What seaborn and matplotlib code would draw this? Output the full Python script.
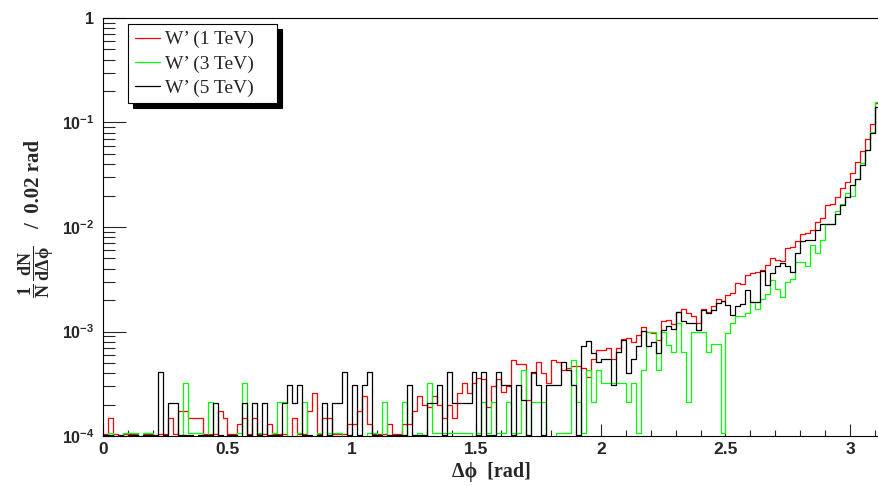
import numpy as np
import pandas as pd
import matplotlib
matplotlib.use("Agg")
import matplotlib.pyplot as plt
import seaborn as sns
from matplotlib.lines import Line2D
from matplotlib.ticker import FixedLocator, MultipleLocator, LogLocator, NullFormatter

# ---------------- data ----------------
bin_width = 0.02
n_bins = 156
samples = ["W\u2019 (1 TeV)", "W\u2019 (3 TeV)", "W\u2019 (5 TeV)"]
colors = ["#ff0000", "#00ff00", "#000000"]

w1tev = [
    1.05e-4, 1.5e-4, 1.05e-4, 0, 1.05e-4, 1.05e-4, 1.05e-4, 0, 1.05e-4, 1.05e-4,
    0, 1.05e-4, 1.05e-4, 1.5e-4, 1.05e-4, 1.75e-4, 1.75e-4, 1.5e-4, 1.5e-4, 1.5e-4,
    1.05e-4, 1.05e-4, 1.05e-4, 1.75e-4, 1.5e-4, 1.05e-4, 1.05e-4, 1.3e-4, 1.5e-4, 1.05e-4,
    1.5e-4, 1.05e-4, 1.05e-4, 1.3e-4, 1.05e-4, 1.05e-4, 1.05e-4, 0, 1.5e-4, 1.05e-4,
    1.05e-4, 1.75e-4, 2.6e-4, 1.05e-4, 1.5e-4, 1.5e-4, 1.05e-4, 1.05e-4, 1.05e-4, 1.3e-4,
    1.3e-4, 1.75e-4, 2.4e-4, 1.3e-4, 1.05e-4, 1.05e-4, 1.05e-4, 1.3e-4, 1.05e-4, 1.05e-4,
    1.3e-4, 1.3e-4, 1.75e-4, 2.4e-4, 2.0e-4, 1.9e-4, 2.4e-4, 2.0e-4, 1.5e-4, 2.0e-4,
    1.5e-4, 2.6e-4, 3.2e-4, 2.6e-4, 3.2e-4, 3.6e-4, 3.5e-4, 1.9e-4, 3.0e-4, 3.5e-4,
    2.65e-4, 3.0e-4, 5.3e-4, 4.9e-4, 4.9e-4, 2.2e-4, 4.0e-4, 5.1e-4, 4.0e-4, 3.2e-4,
    5.3e-4, 5.1e-4, 4.3e-4, 4.5e-4, 4.7e-4, 4.7e-4, 4.5e-4, 3.7e-4, 5.4e-4, 6.6e-4,
    6.6e-4, 7.0e-4, 5.5e-4, 6.9e-4, 8.4e-4, 8.6e-4, 8.0e-4, 9.3e-4, 1.1e-3, 9.9e-4,
    9.7e-4, 8.3e-4, 1.27e-3, 1.3e-3, 1.18e-3, 1.55e-3, 1.63e-3, 1.5e-3, 1.41e-3, 1.21e-3,
    1.63e-3, 1.55e-3, 1.75e-3, 2.03e-3, 1.97e-3, 2.23e-3, 2.32e-3, 2.9e-3, 2.87e-3, 3.5e-3,
    3.6e-3, 3.7e-3, 3.9e-3, 4.3e-3, 5.1e-3, 4.8e-3, 4.75e-3, 6.3e-3, 6.45e-3, 7.4e-3,
    8.6e-3, 8.8e-3, 9.4e-3, 1.12e-2, 1.21e-2, 1.63e-2, 1.66e-2, 1.92e-2, 2.35e-2, 2.72e-2,
    3.31e-2, 4.2e-2, 5.3e-2, 6.9e-2, 9.7e-2, 0.155,
]

w3tev = [
    0, 1.07e-4, 0, 0, 1.07e-4, 1.07e-4, 1.07e-4, 0, 1.07e-4, 1.07e-4,
    0, 0, 0, 0, 0, 0, 3.2e-4, 1.07e-4, 1.07e-4, 1.07e-4,
    0, 2.13e-4, 0, 0, 0, 0, 0, 1.07e-4, 3.2e-4, 0,
    0, 1.07e-4, 0, 0, 1.07e-4, 2.13e-4, 2.13e-4, 0, 0, 1.07e-4,
    2.13e-4, 0, 0, 1.07e-4, 0, 1.07e-4, 1.07e-4, 1.07e-4, 0, 0,
    0, 0, 0, 1.07e-4, 1.07e-4, 0, 2.13e-4, 0, 0, 0,
    2.13e-4, 0, 0, 1.07e-4, 0, 3.2e-4, 1.07e-4, 1.07e-4, 1.07e-4, 1.07e-4,
    1.07e-4, 1.07e-4, 1.07e-4, 1.07e-4, 0, 1.07e-4, 2.13e-4, 1.07e-4, 2.13e-4, 1.07e-4,
    1.07e-4, 2.13e-4, 1.07e-4, 1.07e-4, 4.3e-4, 0, 2.13e-4, 2.13e-4, 2.13e-4, 0,
    0, 1.07e-4, 1.07e-4, 1.07e-4, 5.3e-4, 2.13e-4, 1.07e-4, 4.3e-4, 2.13e-4, 4.3e-4,
    3.2e-4, 3.2e-4, 3.2e-4, 3.2e-4, 3.2e-4, 2.13e-4, 3.2e-4, 1.07e-4, 4.3e-4, 1.0e-3,
    1.0e-3, 4.3e-4, 1.0e-3, 7.4e-4, 6.4e-4, 1.2e-3, 6.4e-4, 2.13e-4, 1.0e-3, 1.0e-3,
    1.0e-3, 6.4e-4, 7.6e-4, 7.6e-4, 1.07e-4, 9.6e-4, 1.2e-3, 1.41e-3, 1.41e-3, 1.51e-3,
    1.93e-3, 1.63e-3, 2.03e-3, 2.29e-3, 3.1e-3, 2.54e-3, 2.15e-3, 3.0e-3, 3.15e-3, 4.6e-3,
    4.6e-3, 4.2e-3, 6.7e-3, 5.7e-3, 7.5e-3, 1.08e-2, 1.08e-2, 1.43e-2, 1.66e-2, 2.13e-2,
    1.98e-2, 2.86e-2, 4.07e-2, 5.4e-2, 8.2e-2, 0.158,
]

w5tev = [
    1.02e-4, 1.02e-4, 0, 1.02e-4, 0, 1.02e-4, 1.02e-4, 0, 1.02e-4, 1.02e-4,
    1.02e-4, 4.1e-4, 1.02e-4, 2.05e-4, 2.05e-4, 1.02e-4, 1.02e-4, 1.02e-4, 0, 1.02e-4,
    1.02e-4, 1.02e-4, 2.05e-4, 1.02e-4, 0, 1.02e-4, 1.02e-4, 0, 2.05e-4, 1.02e-4,
    2.05e-4, 1.02e-4, 2.05e-4, 1.02e-4, 1.02e-4, 1.02e-4, 2.05e-4, 3.1e-4, 2.05e-4, 3.1e-4,
    1.02e-4, 1.02e-4, 0, 1.02e-4, 2.05e-4, 1.02e-4, 2.05e-4, 2.05e-4, 4.1e-4, 1.02e-4,
    3.1e-4, 1.02e-4, 3.1e-4, 4.1e-4, 1.02e-4, 1.02e-4, 0, 1.02e-4, 1.02e-4, 1.02e-4,
    1.02e-4, 3.1e-4, 1.02e-4, 1.02e-4, 1.02e-4, 2.05e-4, 2.05e-4, 3.1e-4, 1.02e-4, 4.1e-4,
    2.05e-4, 2.05e-4, 2.05e-4, 2.05e-4, 4.1e-4, 1.02e-4, 4.1e-4, 1.02e-4, 1.02e-4, 4.1e-4,
    3.1e-4, 3.1e-4, 1.02e-4, 3.1e-4, 2.2e-4, 1.02e-4, 4.1e-4, 3.1e-4, 1.02e-4, 3.1e-4,
    3.1e-4, 3.1e-4, 5.1e-4, 4.3e-4, 3.1e-4, 1.02e-4, 7.3e-4, 8.2e-4, 6.2e-4, 5.1e-4,
    5.4e-4, 5.4e-4, 3.1e-4, 6.4e-4, 8.3e-4, 4.0e-4, 5.4e-4, 7.2e-4, 1.02e-3, 7.3e-4,
    8.0e-4, 6.2e-4, 1.03e-3, 1.12e-3, 1.05e-3, 1.55e-3, 1.25e-3, 1.21e-3, 1.2e-3, 1.03e-3,
    1.6e-3, 1.5e-3, 1.6e-3, 1.86e-3, 1.95e-3, 1.8e-3, 1.44e-3, 1.75e-3, 1.83e-3, 2.5e-3,
    1.93e-3, 1.93e-3, 3.8e-3, 2.79e-3, 3.65e-3, 4.2e-3, 4.5e-3, 4.2e-3, 3.73e-3, 5.6e-3,
    7.4e-3, 7.5e-3, 7.5e-3, 9.4e-3, 1.08e-2, 1.08e-2, 1.08e-2, 1.33e-2, 1.63e-2, 1.92e-2,
    2.52e-2, 2.86e-2, 3.92e-2, 5.4e-2, 8.0e-2, 0.142,
]

x_ticks = [0, 0.5, 1, 1.5, 2, 2.5, 3]
x_tick_labels = ["0", "0.5", "1", "1.5", "2", "2.5", "3"]
y_ticks = [1e-4, 1e-3, 1e-2, 1e-1, 1]
y_tick_labels = [r"$\mathsf{10^{-4}}$", r"$\mathsf{10^{-3}}$", r"$\mathsf{10^{-2}}$",
                 r"$\mathsf{10^{-1}}$", r"$\mathsf{1}$"]
x_title = "\u0394\u03d5  [rad]"
y_title_frac = r"$\dfrac{1}{N}\,\dfrac{dN}{d\Delta\phi}$"
y_title_unit = "/  0.02 rad"

# ---------------- style ----------------
sns.set_theme(style="ticks")
plt.rcParams["font.family"] = ["Liberation Sans", "DejaVu Sans"]
plt.rcParams["mathtext.fontset"] = "custom"
plt.rcParams["mathtext.rm"] = "Liberation Serif:bold"
plt.rcParams["mathtext.it"] = "Liberation Serif:bold"
plt.rcParams["mathtext.bf"] = "Liberation Serif:bold"
plt.rcParams["mathtext.sf"] = "Liberation Sans:bold"
plt.rcParams["mathtext.fallback"] = "stix"
plt.rcParams["axes.linewidth"] = 0.8

centers = (np.arange(n_bins) + 0.5) * bin_width

W, H = 879, 486
fig = plt.figure(figsize=(W / 100, H / 100), dpi=100)
fig.patch.set_facecolor("white")
ax = fig.add_axes([103 / W, 50 / H, 776 / W, 418 / H])

for name, vals, col in zip(samples, [w1tev, w3tev, w5tev], colors):
    df = pd.DataFrame({"dphi": centers, "w": vals})
    sns.histplot(data=df, x="dphi", weights="w", binwidth=bin_width,
                 binrange=(0, n_bins * bin_width), element="step",
                 fill=False, color=col, linewidth=0.9, ax=ax)

ax.set_yscale("log")
ax.set_ylim(1e-4, 1)
ax.set_xlim(0, 776 / 249)

ax.xaxis.set_major_locator(FixedLocator(x_ticks))
ax.set_xticklabels(x_tick_labels)
ax.xaxis.set_minor_locator(MultipleLocator(0.1))
ax.yaxis.set_major_locator(FixedLocator(y_ticks))
ax.set_yticklabels(y_tick_labels)
ax.yaxis.set_minor_locator(LogLocator(base=10, subs=np.arange(2, 10), numticks=20))
ax.yaxis.set_minor_formatter(NullFormatter())

ax.tick_params(axis="x", which="major", direction="in", length=8.8, width=0.8,
               pad=4, labelsize=12.5, top=False)
ax.tick_params(axis="x", which="minor", direction="in", length=4.0, width=0.8, top=False)
ax.tick_params(axis="y", which="major", direction="in", length=16.5, width=0.8,
               pad=6, labelsize=11.5, right=False)
ax.tick_params(axis="y", which="minor", direction="in", length=8.3, width=0.8, right=False)
for lbl in ax.get_xticklabels():
    lbl.set_fontweight("bold")
    lbl.set_fontfamily(["Liberation Sans", "DejaVu Sans"])

for s in ax.spines.values():
    s.set_color("black")
    s.set_linewidth(0.8)

ax.set_xlabel(x_title, fontfamily=["Liberation Serif", "DejaVu Serif"],
              fontweight="bold", fontsize=14.5)
ax.xaxis.set_label_coords(0.5, (436 - 462) / 418)
ax.set_ylabel("")

# y title: fraction part and unit part
fig.text(36 / W, 1 - 272 / H, y_title_frac, rotation=90, rotation_mode="anchor",
         ha="center", va="center", fontsize=13,
         fontfamily=["Liberation Serif", "DejaVu Serif"], fontweight="bold")
fig.text(39.5 / W, 1 - 184 / H, y_title_unit, rotation=90, rotation_mode="anchor",
         ha="center", va="baseline", fontsize=15,
         fontfamily=["Liberation Serif", "DejaVu Serif"], fontweight="bold")

handles = [Line2D([], [], color=c, lw=0.9) for c in colors]
leg = ax.legend(handles, samples, loc="upper left",
                bbox_to_anchor=((128 - 103) / 776, (436 - 114) / 418, 149 / 776, 90 / 418),
                mode="expand", borderaxespad=0,
                prop={"family": "Liberation Serif", "size": 14, "weight": "normal"},
                frameon=True, fancybox=False, edgecolor="black", framealpha=1,
                borderpad=0.35, labelspacing=0.33, handlelength=1.29, handletextpad=0.25,
                shadow={"ox": 3.6, "oy": -3.6, "facecolor": "black",
                        "edgecolor": "black", "alpha": 1})
leg.get_frame().set_linewidth(0.8)

fig.savefig("out.png", dpi=100, facecolor="white")
